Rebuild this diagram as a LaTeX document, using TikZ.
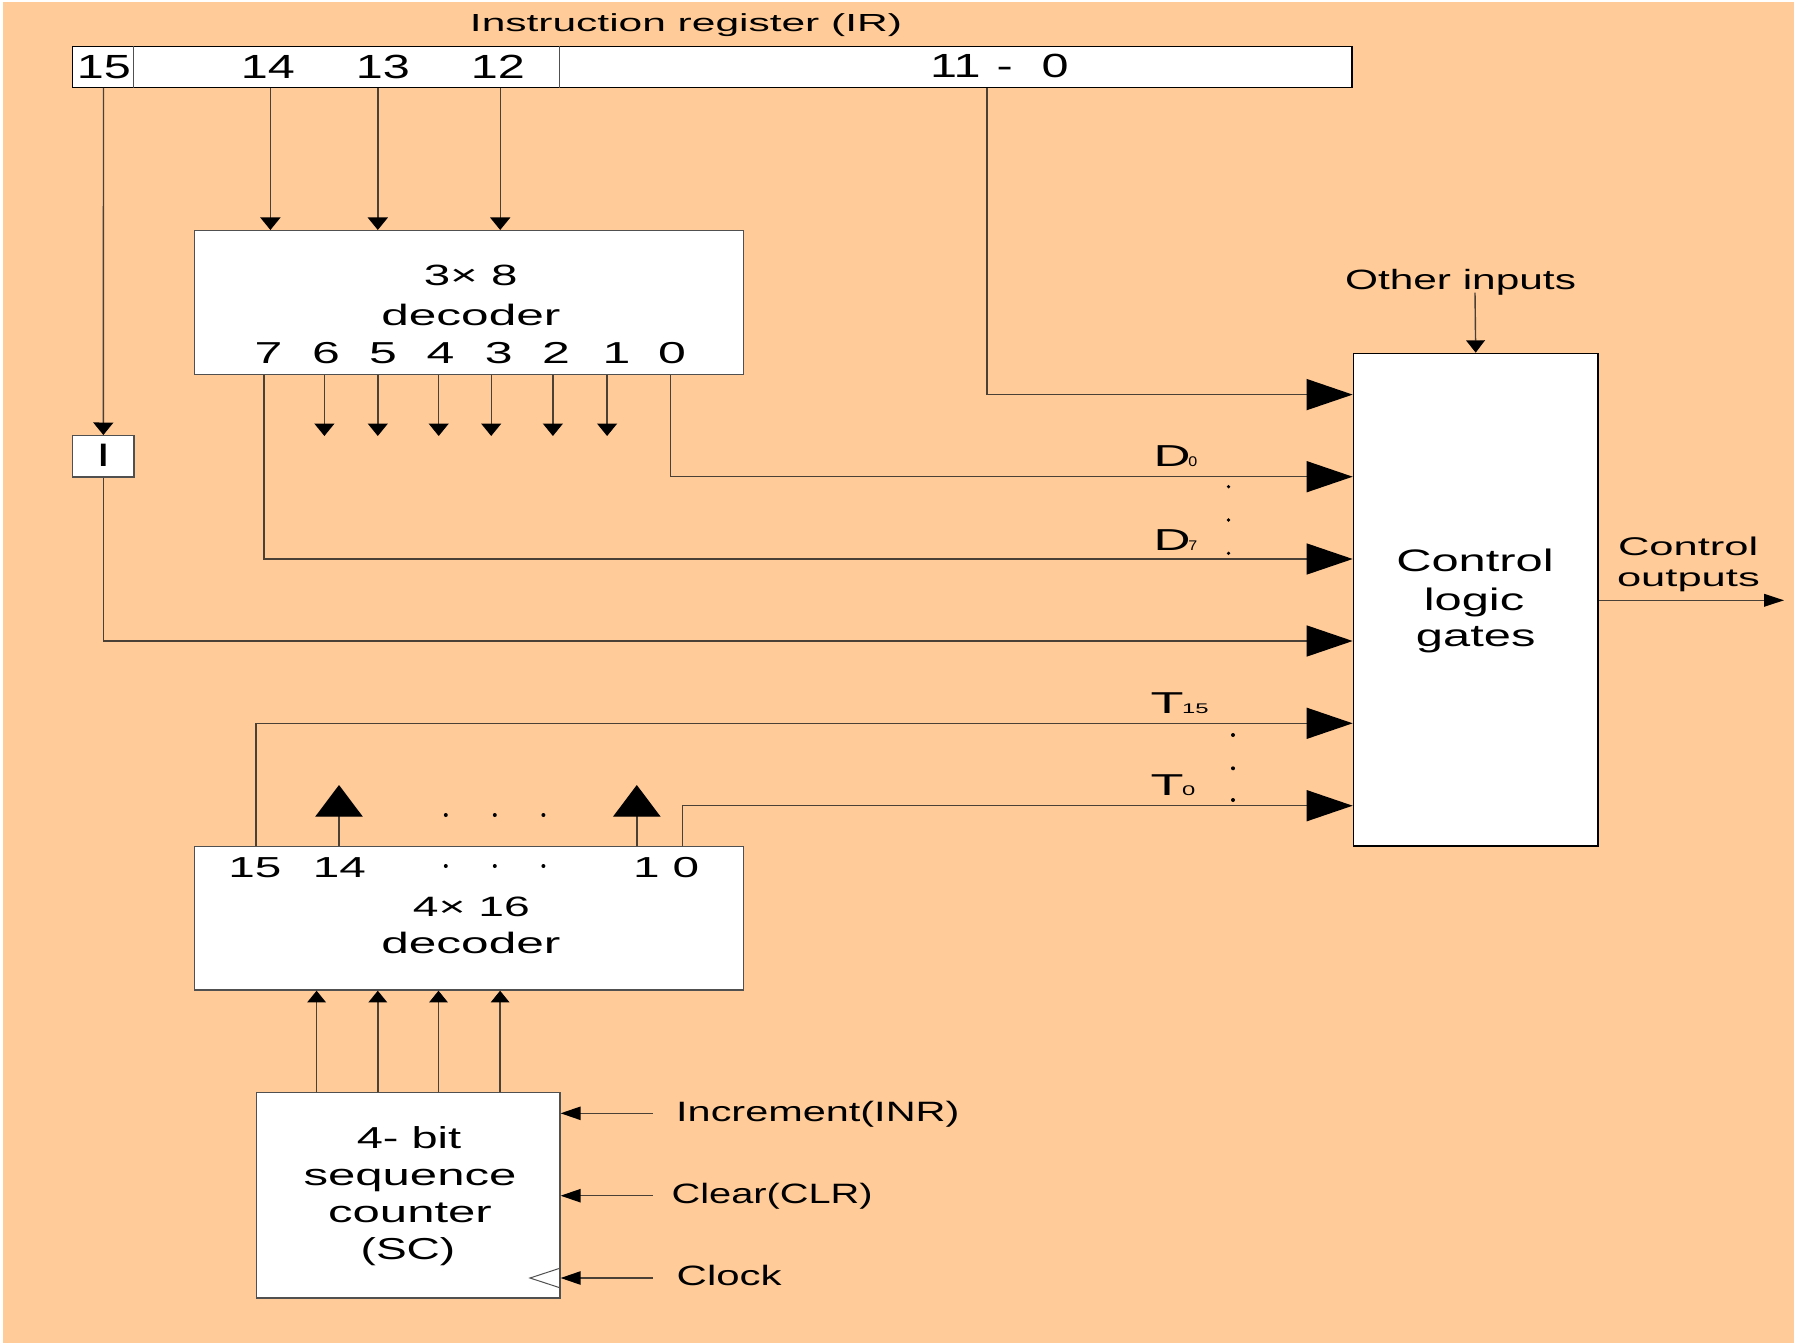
\documentclass[tikz,border=0pt]{standalone}
\usepackage{fontspec}
\setmainfont{Liberation Sans}
\usetikzlibrary{arrows.meta}
\definecolor{bgc}{HTML}{FFCB99}
\definecolor{linec}{HTML}{4A4036}
\definecolor{boxc}{HTML}{505050}
\newcommand\hsc[2]{\scalebox{#1}[1]{#2}}
\newcommand\fsz[1]{\fontsize{#1}{#1}\selectfont}
\begin{document}
\begin{tikzpicture}[x=1pt,y=-1pt,
  ln/.style={draw=linec,line width=1.4pt},
  box/.style={draw=boxc,fill=white,line width=1.4pt,inner sep=0pt},
  txt/.style={inner sep=0pt,anchor=base,text=black},
  sa/.style={-{Triangle[length=12.5pt,width=20pt,color=black]}},
  sb/.style={-{Triangle[length=11.7pt,width=18.6pt,color=black]}},
  sh/.style={-{Triangle[length=20pt,width=13.3pt,color=black]}},
  ba/.style={-{Triangle[length=46pt,width=31pt,color=black]}},
  bu/.style={-{Triangle[length=31.7pt,width=47.4pt,color=black]}},
  dot/.style={fill=black,draw=none}]
\useasboundingbox (0,0) rectangle (1797,1343);
\fill[white] (0,0) rectangle (1797,1343);
\fill[bgc] (3,2) rectangle (1794,1343);

% ---------- boxes ----------
\node[box,draw=black,minimum width=1279.7pt,minimum height=40.6pt] (ir) at (712.2,67) {};
\node[box,minimum width=548.8pt,minimum height=143.6pt] (dec3) at (469.1,302.5) {};
\node[box,minimum width=61.3pt,minimum height=41.3pt] (ibox) at (103.35,456.35) {};
\node[box,draw=black,minimum width=244.7pt,minimum height=492.7pt] (ctl) at (1475.7,599.7) {};
\node[box,minimum width=548.8pt,minimum height=143.3pt] (dec4) at (469.1,918.35) {};
\node[box,minimum width=303.5pt,minimum height=205.3pt] (sc) at (408.15,1195.35) {};

% IR dividers
\coordinate (dv1) at (133.8,0);
\coordinate (dv2) at (559.7,0);
\draw[boxc,line width=1.2pt] (ir.north -| dv1) -- (ir.south -| dv1);
\draw[boxc,line width=1.2pt] (ir.north -| dv2) -- (ir.south -| dv2);

% ---------- texts ----------
\node[txt] (title) at (686,31.7) {\fsz{24.7}\hsc{1.72}{Instruction register (IR)}};
\node[txt] (n15) at (104,79) {\fsz{33.5}\hsc{1.45}{15}};
\node[txt] (n14) at (268,79) {\fsz{33.5}\hsc{1.45}{14}};
\node[txt] (n13) at (383,79) {\fsz{33.5}\hsc{1.45}{13}};
\node[txt] (n12) at (498,79) {\fsz{33.5}\hsc{1.45}{12}};
\node[txt,anchor=base west] (n110) at (930,77.3) {\fsz{33.5}\hsc{1.45}{11\hspace{11pt}-\hspace{20pt}0}};

\node[txt] (d3a) at (470.7,286) {\fsz{29.3}\hsc{1.62}{3× 8}};
\node[txt] (d3b) at (470.9,325) {\fsz{29.5}\hsc{1.68}{decoder}};
\foreach \d/\x in {7/268.6,6/326,5/383,4/440.6,3/498.8,2/556,1/616.4,0/672}
  \node[txt] (dd\d) at (\x,363.3) {\fsz{30.3}\hsc{1.65}{\d}};

\node[txt] (il) at (103.4,466) {\fsz{32.5}\bfseries I};

\node[txt] (oi) at (1460.5,289.3) {\fsz{27.9}\hsc{1.52}{Other inputs}};

\node[txt,anchor=base west] (dl0) at (1153.3,466.7) {\fsz{30.3}\hsc{1.69}{D}\hspace{-2pt}\fsz{14}\hsc{1.15}{0}};
\node[txt,anchor=base west] (dl7) at (1153.3,550) {\fsz{30.3}\hsc{1.69}{D}\hspace{-2pt}\fsz{14}\hsc{1.15}{7}};
\node[txt,anchor=base west] (tl15) at (1150.5,713.3) {\fsz{30.2}\hsc{1.79}{T}\hspace{-1.5pt}\fsz{14}\hsc{1.7}{15}};
\node[txt,anchor=base west] (tl0) at (1150.5,795) {\fsz{30.2}\hsc{1.79}{T}\hspace{-1.5pt}\fsz{14}\hsc{1.7}{0}};

\node[txt] (cl1) at (1475,571.7) {\fsz{31.1}\hsc{1.57}{Control}};
\node[txt] (cl2) at (1474,610.7) {\fsz{31.1}\hsc{1.57}{logic}};
\node[txt] (cl3) at (1475.7,646.7) {\fsz{31.1}\hsc{1.57}{gates}};

\node[txt] (co1) at (1688.2,555) {\fsz{25.6}\hsc{1.7}{Control}};
\node[txt] (co2) at (1688.4,586.7) {\fsz{25.6}\hsc{1.7}{outputs}};

\node[txt] (e15) at (254.8,877.3) {\fsz{28.9}\hsc{1.65}{15}};
\node[txt] (e14) at (339.4,877.3) {\fsz{28.9}\hsc{1.65}{14}};
\node[txt] (e1) at (646.3,877.3) {\fsz{28.9}\hsc{1.65}{1}};
\node[txt] (e0) at (686,877.3) {\fsz{28.9}\hsc{1.65}{0}};
\node[txt] (d4a) at (471.3,916.7) {\fsz{28}\hsc{1.65}{4× 16}};
\node[txt] (d4b) at (470.9,953.3) {\fsz{29.5}\hsc{1.68}{decoder}};

\node[txt] (s1) at (409,1148) {\fsz{30.3}\hsc{1.55}{4- bit}};
\node[txt] (s2) at (410,1185) {\fsz{30.3}\hsc{1.62}{sequence}};
\node[txt] (s3) at (410,1222) {\fsz{30.3}\hsc{1.62}{counter}};
\node[txt] (s4) at (408,1259) {\fsz{30.3}\hsc{1.52}{(SC)}};

\node[txt,anchor=base west] (inr) at (676,1121.7) {\fsz{28}\hsc{1.48}{Increment(INR)}};
\node[txt,anchor=base west] (clr) at (671.5,1203.3) {\fsz{28}\hsc{1.42}{Clear(CLR)}};
\node[txt,anchor=base west] (clk) at (676.5,1285) {\fsz{28}\hsc{1.5}{Clock}};

% ---------- coordinates ----------
\coordinate (b15) at (103.5,0);
\coordinate (b14) at (270.4,0);
\coordinate (b13) at (377.8,0);
\coordinate (b12) at (500.2,0);
\coordinate (b11) at (987,0);
\coordinate (y11) at (0,394.6);
\coordinate (o7) at (263.9,0);
\coordinate (o0) at (670.4,0);
\coordinate (yD0) at (0,476.7);
\coordinate (yD7) at (0,559);
\coordinate (yI) at (0,641);
\coordinate (yT15) at (0,723.3);
\coordinate (yT0) at (0,805.7);
\coordinate (x15) at (256,0);
\coordinate (x0b) at (682.2,0);
\coordinate (t14) at (339,785);
\coordinate (t1) at (636.8,785);
\coordinate (oin) at (1475,292.7);
\coordinate (cout) at (1784,600.3);
\coordinate (cinr) at (652.9,1113.3);
\coordinate (cclr) at (652.9,1195.7);
\coordinate (cclk) at (652.9,1278);

% ---------- connectors ----------
\draw[ln,sa] (ir.south -| b14) -- (dec3.north -| b14);
\draw[ln,sa] (ir.south -| b13) -- (dec3.north -| b13);
\draw[ln,sa] (ir.south -| b12) -- (dec3.north -| b12);
\draw[ln,sa] (ir.south -| b15) -- (ibox.north);

\foreach \n/\x in {6/324.4,5/377.8,4/438.7,3/491.2,2/552.9,1/607.1}{
  \coordinate (o\n) at (\x,436);
  \draw[ln,sa] (dec3.south -| o\n) -- (o\n);
}

\draw[ln,ba] (ir.south -| b11) |- (ctl.west |- y11);
\draw[ln,ba] (dec3.south -| o0) |- (ctl.west |- yD0);
\draw[ln,ba] (dec3.south -| o7) |- (ctl.west |- yD7);
\draw[ln,ba] (ibox.south) |- (ctl.west |- yI);
\draw[ln,ba] (dec4.north -| x15) |- (ctl.west |- yT15);
\draw[ln,ba] (dec4.north -| x0b) |- (ctl.west |- yT0);

\draw[ln,bu] (dec4.north -| t14) -- (t14);
\draw[ln,bu] (dec4.north -| t1) -- (t1);

\draw[ln,-{Triangle[length=12.3pt,width=18.7pt,color=black]}] (oin) -- (ctl.north);
\draw[ln,-{Triangle[length=20pt,width=12.7pt,color=black]}] (ctl.east |- cout) -- (cout);

\foreach \x in {316.6,377.8,438.5,500.1}{
  \coordinate (q) at (\x,0);
  \draw[ln,sb] (sc.north -| q) -- (dec4.south -| q);
}

\draw[ln,sh] (cinr) -- (sc.east |- cinr);
\draw[ln,sh] (cclr) -- (sc.east |- cclr);
\draw[ln,sh] (cclk) -- (sc.east |- cclk);

% clock triangle
\coordinate (ck1) at (0,1268);
\coordinate (ck2) at (0,1288);
\draw[boxc,line width=1pt] (sc.east |- ck1) -- (530,1278) -- (sc.east |- ck2);

% ---------- dots ----------
\foreach \y in {486.7,520,553.3} \fill[dot] (1228.5,\y) circle (1.8pt);
\foreach \y in {735,768.3,800} \fill[dot] (1233,\y) circle (2pt);
\foreach \x in {445.8,494.8,543.4}{
  \fill[dot] (\x,815) circle (2pt);
  \fill[dot] (\x,866) circle (2pt);
}
\end{tikzpicture}
\end{document}
